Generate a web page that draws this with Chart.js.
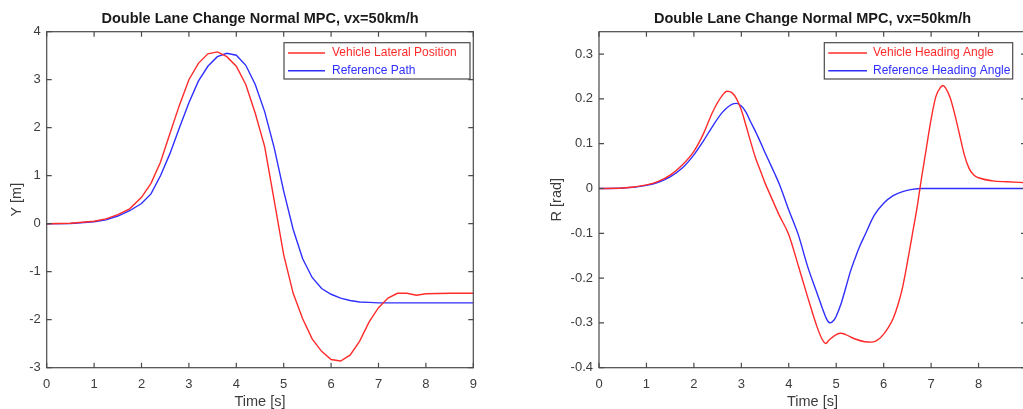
<!DOCTYPE html>
<html>
<head>
<meta charset="utf-8">
<script src="https://cdn.jsdelivr.net/npm/chart.js@4.4.0/dist/chart.umd.min.js"></script>
<style>
  html, body { margin: 0; padding: 0; background: #fff; overflow: hidden; }
  body { width: 1023px; height: 409px; position: relative; }
  .panel { position: absolute; top: 0; height: 409px; }
  #left { left: 0; width: 500px; }
  #right { left: 520px; width: 540px; }
</style>
</head>
<body>
<div class="panel" id="left"><canvas id="posChart"></canvas></div>
<div class="panel" id="right"><canvas id="headingChart"></canvas></div>
<script>
const titleText = "Double Lane Change Normal MPC, vx=50km/h";

// lateral position, Y [m] against time [s]
const posTime = [0, 0.5, 1, 1.25, 1.5, 1.75, 2, 2.2, 2.4, 2.6, 2.8, 3, 3.2, 3.4, 3.6, 3.8, 4, 4.2, 4.4, 4.6,
  4.8, 5, 5.2, 5.4, 5.6, 5.8, 6, 6.2, 6.4, 6.6, 6.8, 7, 7.2, 7.4, 7.6, 7.8, 8, 8.5, 9];
const posVehicle = [0, 0.01, 0.05, 0.10, 0.19, 0.31, 0.55, 0.84, 1.28, 1.88, 2.47, 3.00, 3.34, 3.54, 3.58, 3.48, 3.28, 2.90, 2.30, 1.60,
  0.48, -0.65, -1.45, -1.98, -2.40, -2.66, -2.83, -2.86, -2.74, -2.45, -2.05, -1.75, -1.55, -1.45, -1.45, -1.49, -1.46, -1.45, -1.45];
const posReference = [0, 0.005, 0.04, 0.08, 0.16, 0.27, 0.42, 0.62, 1.0, 1.46, 2.0, 2.52, 2.97, 3.28, 3.48, 3.55, 3.51, 3.30, 2.90, 2.33,
  1.58, 0.68, -0.12, -0.73, -1.12, -1.35, -1.47, -1.55, -1.60, -1.63, -1.64, -1.65, -1.65, -1.65, -1.65, -1.65, -1.65, -1.65, -1.65];

// heading angle, R [rad] against time [s]
const headTimeVehicle = [0, 0.5, 1, 1.25, 1.5, 1.75, 2, 2.2, 2.4, 2.6, 2.7, 2.8, 2.9, 3, 3.1, 3.2, 3.3, 3.4, 3.5, 3.6,
  3.8, 4, 4.2, 4.4, 4.6, 4.7, 4.78, 4.85, 5, 5.1, 5.2, 5.4, 5.6, 5.75, 5.9, 6, 6.1, 6.2, 6.3, 6.4,
  6.5, 6.6, 6.7, 6.8, 6.9, 7, 7.1, 7.2, 7.25, 7.3, 7.4, 7.5, 7.6, 7.7, 7.8, 7.9, 8, 8.3, 8.6, 9];
const headVehicle = [0, 0.001, 0.008, 0.016, 0.030, 0.052, 0.083, 0.122, 0.172, 0.208, 0.217, 0.214, 0.200, 0.175, 0.140, 0.103, 0.068, 0.040, 0.012, -0.012,
  -0.060, -0.103, -0.172, -0.243, -0.310, -0.336, -0.346, -0.338, -0.326, -0.323, -0.326, -0.336, -0.342, -0.343, -0.336, -0.325, -0.310, -0.290, -0.260, -0.220,
  -0.165, -0.105, -0.045, 0.025, 0.090, 0.155, 0.205, 0.226, 0.230, 0.225, 0.203, 0.165, 0.120, 0.075, 0.045, 0.030, 0.024, 0.017, 0.015, 0.013];
const headTimeReference = [0, 0.5, 1, 1.25, 1.5, 1.75, 2, 2.2, 2.4, 2.6, 2.8, 2.9, 3, 3.1, 3.2, 3.3, 3.4, 3.5, 3.6, 3.7,
  3.8, 4, 4.2, 4.4, 4.6, 4.7, 4.8, 4.87, 4.95, 5, 5.1, 5.2, 5.3, 5.4, 5.5, 5.6, 5.8, 6, 6.2, 6.4,
  6.6, 6.8, 7, 8, 9];
const headReference = [0, 0.001, 0.007, 0.014, 0.026, 0.045, 0.075, 0.106, 0.140, 0.170, 0.188, 0.190, 0.184, 0.170, 0.148, 0.127, 0.104, 0.080, 0.057, 0.034,
  0.010, -0.048, -0.103, -0.175, -0.235, -0.265, -0.292, -0.300, -0.294, -0.285, -0.258, -0.222, -0.185, -0.155, -0.128, -0.105, -0.060, -0.033, -0.016, -0.007,
  -0.002, 0, 0, 0, 0];

const RED = "#ff2b2b";
const BLUE = "#2f2fff";
const FONT = "'Liberation Sans', Arial, Helvetica, sans-serif";

Chart.defaults.font.family = FONT;
Chart.defaults.color = "#3c3c3c";

const toPoints = (xs, ys) => xs.map((x, i) => ({ x: x, y: ys[i] }));

// box, inward ticks on all four sides and the boxed legend
const frameAndLegend = {
  id: "frameAndLegend",
  afterDatasetsDraw(chart, args, opts) {
    const { ctx, chartArea: a } = chart;
    const xs = chart.scales.x, ys = chart.scales.y;
    const len = 5;
    ctx.save();
    ctx.strokeStyle = "#4a4a4a";
    ctx.lineWidth = 1.2;
    ctx.strokeRect(a.left, a.top, a.width, a.height);
    ctx.beginPath();
    xs.ticks.forEach((t) => {
      const px = xs.getPixelForValue(t.value);
      ctx.moveTo(px, a.bottom); ctx.lineTo(px, a.bottom - len);
      ctx.moveTo(px, a.top); ctx.lineTo(px, a.top + len);
    });
    ys.ticks.forEach((t) => {
      const py = ys.getPixelForValue(t.value);
      ctx.moveTo(a.left, py); ctx.lineTo(a.left + len, py);
      ctx.moveTo(a.right, py); ctx.lineTo(a.right - len, py);
    });
    ctx.stroke();

    const lg = opts.legend;
    const bx = a.right - lg.right - lg.width;
    const by = a.top + lg.top;
    ctx.fillStyle = "#fff";
    ctx.fillRect(bx, by, lg.width, lg.height);
    ctx.lineWidth = 1.2;
    ctx.strokeRect(bx, by, lg.width, lg.height);
    ctx.font = "12px " + FONT;
    ctx.textBaseline = "middle";
    ctx.textAlign = "left";
    chart.data.datasets.forEach((ds, i) => {
      const ry = by + 10.3 + i * 17.7;
      ctx.strokeStyle = ds.borderColor;
      ctx.lineWidth = 1.4;
      ctx.beginPath();
      ctx.moveTo(bx + 4, ry);
      ctx.lineTo(bx + 4 + lg.sample, ry);
      ctx.stroke();
      ctx.fillStyle = ds.borderColor;
      ctx.fillText(ds.label, bx + lg.textAt, ry);
    });
    ctx.restore();
  }
};

function makeChart(id, datasets, yAxis, yTitle, yWidth, padRight, yTitlePad, legend) {
  return new Chart(document.getElementById(id), {
    type: "line",
    data: { datasets: datasets },
    options: {
      responsive: true,
      maintainAspectRatio: false,
      animation: false,
      layout: { padding: { left: 0, right: padRight, top: 0, bottom: 0 } },
      elements: { point: { radius: 0 }, line: { borderWidth: 1.4, tension: 0 } },
      plugins: {
        legend: { display: false },
        tooltip: { enabled: false },
        title: {
          display: true,
          text: titleText,
          fullSize: false,
          color: "#1a1a1a",
          font: { size: 14.5, weight: "bold", lineHeight: 1.2 },
          padding: { top: 10, bottom: 4.3 }
        },
        frameAndLegend: { legend: legend }
      },
      scales: {
        x: {
          type: "linear",
          min: 0,
          max: 9,
          grid: { display: false, drawTicks: false },
          border: { display: false },
          ticks: { stepSize: 1, padding: 9, font: { size: 13 } },
          title: { display: true, text: "Time [s]", font: { size: 14.5, lineHeight: 1 }, padding: 0 },
          afterFit: (s) => { s.height = 41.3; }
        },
        y: Object.assign({
          type: "linear",
          grid: { display: false, drawTicks: false },
          border: { display: false },
          title: { display: true, text: yTitle, font: { size: 14.5, lineHeight: 1 }, padding: { top: yTitlePad, bottom: 0 } },
          afterFit: (s) => { s.width = yWidth; }
        }, yAxis)
      }
    },
    plugins: [frameAndLegend]
  });
}

makeChart("posChart", [
  { label: "Vehicle Lateral Position", data: toPoints(posTime, posVehicle), borderColor: RED },
  { label: "Reference Path", data: toPoints(posTime, posReference), borderColor: BLUE }
], {
  min: -3, max: 4,
  ticks: { stepSize: 1, padding: 6, font: { size: 13 } }
}, "Y [m]", 46.7, 26.7, 9.5, { right: 3.3, width: 186, top: 11, height: 36.3, sample: 37, textAt: 48 });

makeChart("headingChart", [
  { label: "Vehicle Heading Angle", data: toPoints(headTimeVehicle, headVehicle), borderColor: RED, cubicInterpolationMode: "monotone" },
  { label: "Reference Heading Angle", data: toPoints(headTimeReference, headReference), borderColor: BLUE, cubicInterpolationMode: "monotone" }
], {
  min: -0.4, max: 0.35,
  ticks: { stepSize: 0.1, includeBounds: false, padding: 6, font: { size: 13 } }
}, "R [rad]", 79, 34, 29.5, { right: 13.3, width: 188.4, top: 11, height: 36.3, sample: 38.7, textAt: 48.7 });
</script>
</body>
</html>
